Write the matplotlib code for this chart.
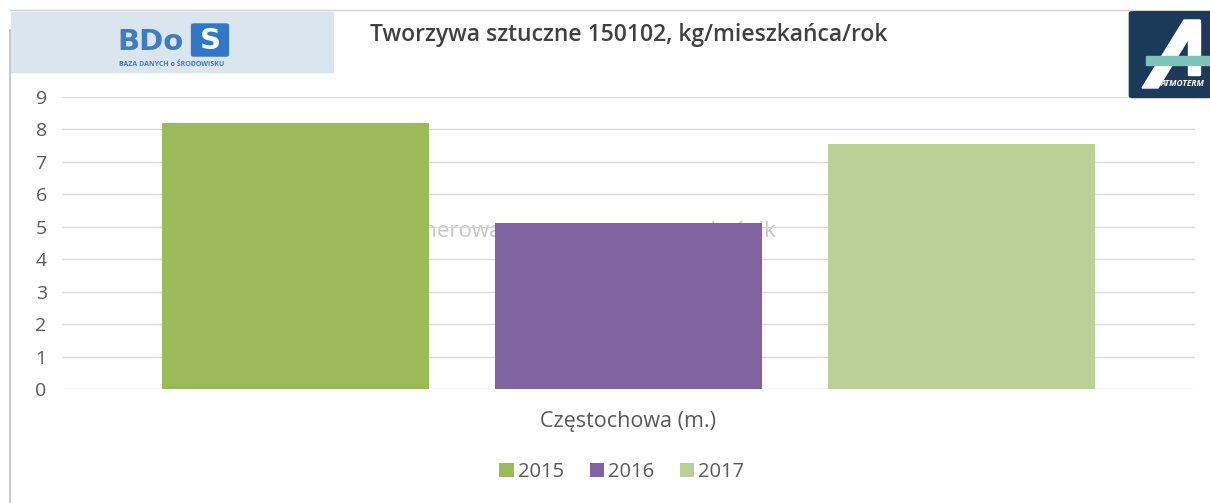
import numpy as np
import matplotlib
matplotlib.use("Agg")
from matplotlib import pyplot as plt
from matplotlib.patches import Rectangle, FancyBboxPatch, Polygon

plt.rcParams['font.family'] = ['Open Sans', 'DejaVu Sans']

# data
years = ['2015', '2016', '2017']
values = [8.2, 5.12, 7.54]
colors = ['#9BBB59', '#8064A2', '#BBD097']
category = 'Częstochowa (m.)'
title = 'Tworzywa sztuczne 150102, kg/mieszkańca/rok'

W, H = 1210, 503
fig = plt.figure(figsize=(W / 100, H / 100), dpi=100)

# plot area in pixel coords of the reference
x0, x1 = 62, 1195
y_top, y_bot = 97, 389
ax = fig.add_axes([x0 / W, (H - y_bot) / H, (x1 - x0) / W, (y_bot - y_top) / H])

pos = np.arange(len(years)) - 1
ax.grid(axis='y', color='#d9d9d9', linewidth=1, zorder=0)
ax.set_axisbelow(True)

# faint watermark, mostly hidden behind the bars
ax.text((776 - 628.5) / 333, 4.68, 'Wygenerowano na serwerze – wskaźnik',
        ha='right', va='baseline', fontsize=16, color='#c8c8c8', zorder=0.5)

for p, v, c, lab in zip(pos, values, colors, years):
    ax.bar(p, v, width=0.8, color=c, label=lab, zorder=3)

ax.set_xlim(-1.7, 1.7)
ax.set_ylim(0, 9)
ax.set_yticks(range(0, 10))
ax.set_xticks([])
for s in ax.spines.values():
    s.set_visible(False)
ax.tick_params(axis='y', length=0, labelsize=14, labelcolor='#595959', pad=11)

fig.text(628 / W, 1 - 422 / H, category, ha='center', va='center',
         fontsize=15.5, color='#595959')

leg = fig.legend(loc='center', bbox_to_anchor=(622 / W, 1 - 472 / H), ncol=3,
                 frameon=False, fontsize=14.5, handlelength=0.7, handleheight=0.7,
                 handletextpad=0.2, columnspacing=1.3)
for t in leg.get_texts():
    t.set_color('#595959')

# frame lines of the original screenshot
fig.add_artist(plt.Line2D([10 / W, 10 / W], [0, 1 - 30 / H], color='#bfbfbf', lw=1.2))
fig.add_artist(plt.Line2D([10 / W, 1132 / W], [1 - 10 / H, 1 - 10 / H], color='#d0d0d0', lw=1))

# BDoS logo box
fig.add_artist(Rectangle((11 / W, 1 - 72 / H), 322 / W, 60 / H,
                         transform=fig.transFigure, color='#dbe5ee', zorder=1))
fig.text(117 / W, 1 - 42 / H, 'BDo', fontsize=21, fontweight='bold',
         family='DejaVu Sans', color='#3b7cc4', ha='left', va='center')
fig.add_artist(FancyBboxPatch((194 / W, 1 - 55 / H), 32 / W, 30 / H,
                              boxstyle='round,pad=0.002', transform=fig.transFigure,
                              color='#2f78c8', zorder=2))
fig.text(210 / W, 1 - 41 / H, 'S', fontsize=21, fontweight='bold',
         family='DejaVu Sans', color='white', ha='center', va='center', zorder=3)
fig.text(172 / W, 1 - 64 / H, 'BAZA DANYCH o ŚRODOWISKU', fontsize=5,
         fontweight='bold', color='#3b7cc4', ha='center', va='center')

# title
fig.text(370 / W, 1 - 35 / H, title, fontsize=16.5, fontweight='semibold',
         color='#404040', ha='left', va='center')

# ATMOTERM logo box
fig.add_artist(FancyBboxPatch((1133 / W, 1 - 96 / H), 80 / W, 83 / H,
                              boxstyle='round,pad=0.003', transform=fig.transFigure,
                              color='#1c3a5a', zorder=1))
fig.add_artist(Polygon([[1142 / W, 1 - 88 / H], [1158 / W, 1 - 88 / H],
                        [1200 / W, 1 - 20 / H], [1184 / W, 1 - 20 / H]],
                       closed=True, transform=fig.transFigure, color='white', zorder=2))
fig.add_artist(Rectangle((1188 / W, 1 - 75 / H), 12 / W, 55 / H,
                         transform=fig.transFigure, color='white', zorder=2))
fig.add_artist(Rectangle((1146 / W, 1 - 65 / H), 64 / W, 9 / H,
                         transform=fig.transFigure, color='#7ec4b8', zorder=3))
fig.text(1160 / W, 1 - 84 / H, 'ATMOTERM', fontsize=6, fontweight='bold',
         fontstyle='italic', color='white', ha='left', va='center', zorder=4)

fig.savefig('out.png', dpi=100, facecolor='white')
